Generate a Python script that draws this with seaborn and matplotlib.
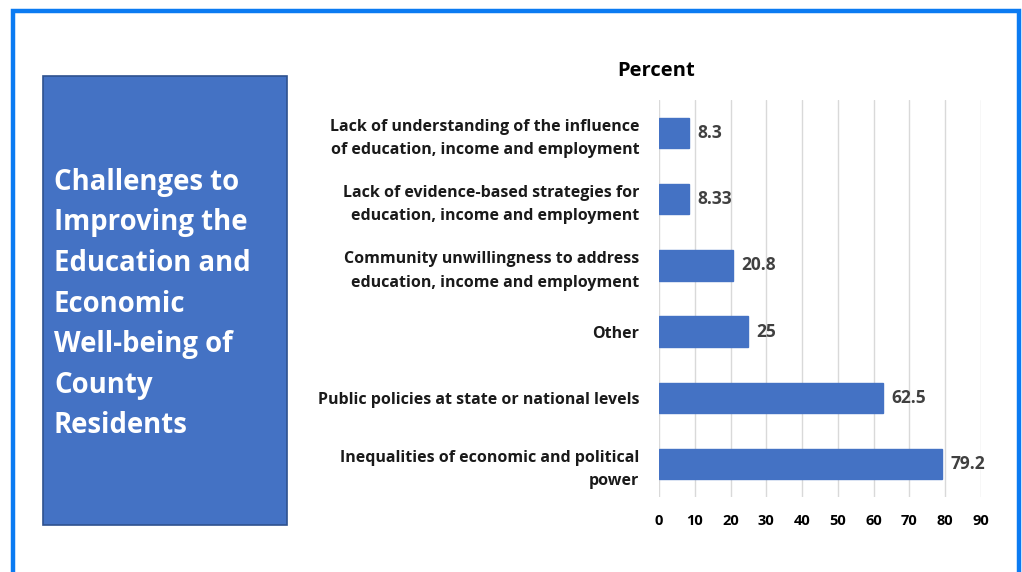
import matplotlib
matplotlib.use("Agg")
import matplotlib.pyplot as plt
import seaborn as sns
import pandas as pd
from matplotlib.patches import Rectangle

categories = [
    "Lack of understanding of the influence\nof education, income and employment",
    "Lack of evidence-based strategies for\neducation, income and employment",
    "Community unwillingness to address\neducation, income and employment",
    "Other",
    "Public policies at state or national levels",
    "Inequalities of economic and political\npower",
]
values = [8.3, 8.33, 20.8, 25, 62.5, 79.2]
value_labels = ["8.3", "8.33", "20.8", "25", "62.5", "79.2"]
xticks = [0, 10, 20, 30, 40, 50, 60, 70, 80, 90]
title = "Percent"
side_title = "Challenges to\nImproving the\nEducation and\nEconomic\nWell-being of\nCounty\nResidents"

sns.set_theme(style="white")
plt.rcParams['font.family'] = ['Open Sans', 'DejaVu Sans']

W, H = 1022, 572
fig = plt.figure(figsize=(W / 100, H / 100), dpi=100)
fig.patch.set_facecolor("white")

# outer slide border
fig.add_artist(Rectangle((12.5 / W, -0.05), (1019 - 12.5) / W, (H - 10.5) / H + 0.05,
                         transform=fig.transFigure, fill=False,
                         edgecolor="#0B7BF2", linewidth=3.2))
# left title box
fig.add_artist(Rectangle((43 / W, 1 - 525 / H), (287 - 43) / W, (525 - 76) / H,
                         transform=fig.transFigure, facecolor="#4472C4",
                         edgecolor="#2F528F", linewidth=1.2))
fig.text(54 / W, 1 - 304 / H, side_title, color="white", fontsize=19.8,
         fontweight="bold", ha="left", va="center", linespacing=1.53)

ax = fig.add_axes([659 / W, 1 - 497 / H, (981 - 659) / W, (497 - 100) / H])
df = pd.DataFrame({"category": categories, "value": values})
sns.barplot(data=df, x="value", y="category", orient="h", color="#4472C4",
            saturation=1, width=0.46, ax=ax, edgecolor="#4472C4")

ax.set_xlim(0, 90)
ax.set_ylim(5.5, -0.5)
ax.set_xticks(xticks)
ax.set_xticklabels([str(t) for t in xticks], fontsize=10.5, fontweight="bold", color="black")
ax.tick_params(axis="x", length=0, pad=12)
ax.tick_params(axis="y", length=0, pad=14)
for lab in ax.get_yticklabels():
    lab.set_fontsize(11.5)
    lab.set_fontweight("bold")
    lab.set_color("#1a1a1a")
    lab.set_multialignment("right")
    lab.set_linespacing(1.6)
ax.set_xlabel("")
ax.set_ylabel("")
ax.grid(axis="x", color="#D9D9D9", linewidth=1)
ax.set_axisbelow(True)
for s in ax.spines.values():
    s.set_visible(False)

for i, (v, t) in enumerate(zip(values, value_labels)):
    ax.annotate(t, (v, i), xytext=(6, 0), textcoords="offset points",
                ha="left", va="center", fontsize=12.5, fontweight="bold", color="#404040")

fig.text(656 / W, 1 - 71 / H, title, fontsize=14.5, fontweight="bold",
         ha="center", va="center", color="black")

fig.savefig("out.png", dpi=100)
